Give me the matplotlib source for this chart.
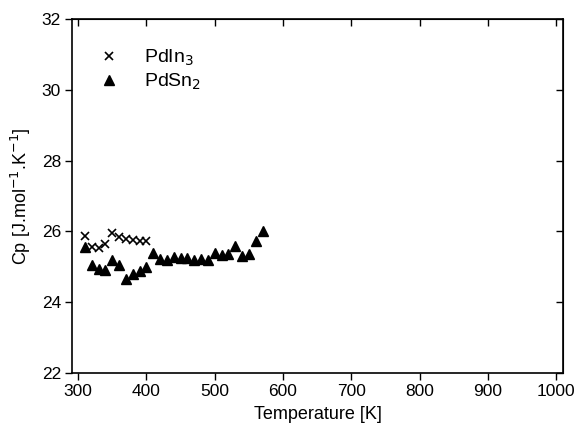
import numpy as np
import matplotlib.pyplot as plt

plt.rcParams['font.family'] = ['Liberation Sans', 'DejaVu Sans']

# PdIn3 data (crosses)
t_in = [310, 320, 330, 340, 350, 360, 370, 380, 390, 400]
cp_in = [25.88, 25.57, 25.52, 25.64, 25.95, 25.85, 25.79, 25.76, 25.74, 25.72]

# PdSn2 data (triangles)
t_sn = [310, 320, 330, 340, 350, 360, 370, 380, 390, 400,
        410, 420, 430, 440, 450, 460, 470, 480, 490, 500,
        510, 520, 530, 540, 550, 560, 570]
cp_sn = [25.55, 25.05, 24.95, 24.92, 25.2, 25.05, 24.65, 24.8, 24.88, 25.0,
         25.4, 25.22, 25.2, 25.28, 25.25, 25.26, 25.2, 25.22, 25.18, 25.38,
         25.34, 25.35, 25.6, 25.3, 25.35, 25.72, 26.0]

xticks = [300, 400, 500, 600, 700, 800, 900, 1000]
yticks = [22, 24, 26, 28, 30, 32]

fig = plt.figure(figsize=(5.78, 4.36), dpi=100)
ax = fig.add_axes([0.1246, 0.1445, 0.8494, 0.8119])

ax.plot(t_in, cp_in, 'x', color='black', markersize=6, markeredgewidth=1.2, label='PdIn$_3$')
ax.plot(t_sn, cp_sn, '^', color='black', markersize=7, label='PdSn$_2$')

ax.set_xlim(291, 1010)
ax.set_ylim(22, 32)
ax.set_xticks(xticks)
ax.set_yticks(yticks)
ax.tick_params(direction='out', length=5, width=1, labelsize=12.5, pad=3)

# inward ticks on top and right
top = ax.secondary_xaxis('top')
top.set_xticks(xticks)
top.tick_params(direction='in', length=5, width=1, labeltop=False)
right = ax.secondary_yaxis('right')
right.set_yticks(yticks)
right.tick_params(direction='in', length=5, width=1, labelright=False)

for s in ax.spines.values():
    s.set_linewidth(1.2)

ax.set_xlabel('Temperature [K]', fontsize=13, labelpad=5)
ax.set_ylabel('Cp [J.mol$^{-1}$.K$^{-1}$]', fontsize=13, labelpad=6)

ax.legend(loc='upper left', frameon=False, fontsize=14, handletextpad=0.8,
          borderaxespad=0.5, labelspacing=0.15, bbox_to_anchor=(0.0, 0.967))

fig.savefig('out.png', dpi=100)
